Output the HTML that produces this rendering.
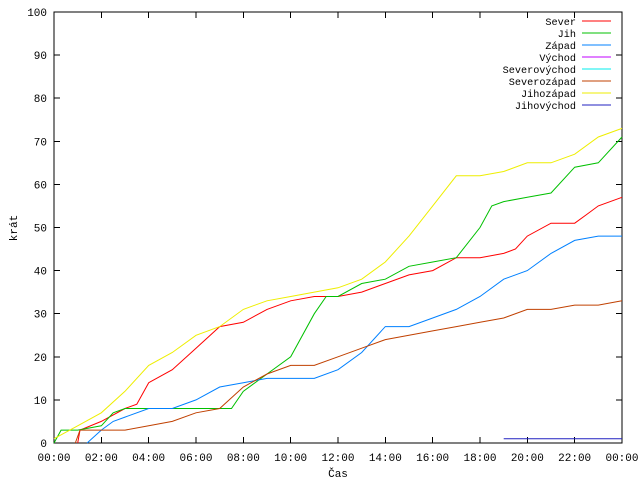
<!DOCTYPE html>
<html><head><meta charset="utf-8"><style>
body{margin:0;background:#fff}
svg text{font-family:"Liberation Mono","DejaVu Sans Mono",monospace;font-size:11px;fill:#000}
svg text.lg{font-size:10.2px}
</style></head><body>
<svg id="c" width="640" height="480" xmlns="http://www.w3.org/2000/svg"></svg>
<script>
const seriesNames=["Sever","Jih","Západ","Východ","Severovýchod","Severozápad","Jihozápad","Jihovýchod"];
const seriesColors=["#ff0000","#00c000","#0080ff","#c000ff","#00eeee","#c04000","#eeee00","#2020c0"];
const tSever=[1,1.1,2,3,3.5,4,5,6,7,8,9,10,11,12,13,14,15,16,17,18,19,19.5,20,21,22,22.5,23,24];
const vSever=[0,3,5,8,9,14,17,22,27,28,31,33,34,34,35,37,39,40,43,43,44,45,48,51,51,53,55,57];
const tJih=[0,0.3,1,2,2.5,3,4,7.5,8,9,10,11,11.5,12,13,14,15,16,17,18,18.5,19,20,21,22,23,24];
const vJih=[0,3,3,4,7,8,8,8,12,16,20,30,34,34,37,38,41,42,43,50,55,56,57,58,64,65,71];
const tZapad=[1.4,2,2.5,3,4,5,6,7,8,9,10,11,12,13,14,15,16,17,18,19,20,21,22,23,24];
const vZapad=[0,3,5,6,8,8,10,13,14,15,15,15,17,21,27,27,29,31,34,38,40,44,47,48,48];
const tSeverozapad=[0.9,1.1,2,3,4,5,6,7,8,9,10,11,12,13,14,15,16,17,18,19,20,21,22,23,24];
const vSeverozapad=[0,3,3,3,4,5,7,8,13,16,18,18,20,22,24,25,26,27,28,29,31,31,32,32,33];
const tJihozapad=[0,1,2,3,4,5,6,7,8,9,10,11,12,13,14,15,16,17,18,19,20,21,22,23,24];
const vJihozapad=[1,4,7,12,18,21,25,27,31,33,34,35,36,38,42,48,55,62,62,63,65,65,67,71,73];
const tJihovychod=[19,24];
const vJihovychod=[1,1];
const yTicks=[0,10,20,30,40,50,60,70,80,90,100];
const xTickLabels=["00:00","02:00","04:00","06:00","08:00","10:00","12:00","14:00","16:00","18:00","20:00","22:00","00:00"];

const NS="http://www.w3.org/2000/svg",svg=document.getElementById('c');
const L=54,R=622,T=12,B=443;
const xs=h=>L+h/24*(R-L), ys=v=>B-v/100*(B-T);
function mk(tag,a){const e=document.createElementNS(NS,tag);for(const k in a)e.setAttribute(k,a[k]);svg.appendChild(e);return e;}
let e=mk('rect',{x:L,y:T,width:R-L,height:B-T,fill:'none',stroke:'#000','stroke-width':1,'shape-rendering':'crispEdges'});


yTicks.forEach(v=>{
 const y=ys(v);
 let l=mk('path',{d:`M${L},${y}h6M${R},${y}h-6`,stroke:'#000','shape-rendering':'crispEdges'});
 
 
 let t=mk('text',{x:L-7,y:y+4,'text-anchor':'end'});t.textContent=v;
 
 
});
xTickLabels.forEach((s,i)=>{
 const x=xs(i*2);
 let l=mk('path',{d:`M${x},${B}v-6M${x},${T}v6`,stroke:'#000','shape-rendering':'crispEdges'});
 
 
 let t=mk('text',{x:x,y:B+18,'text-anchor':'middle'});t.textContent=s;
 
 
});
let xt=mk('text',{x:(L+R)/2,y:477,'text-anchor':'middle'});xt.textContent='Čas';


let yt=mk('text',{x:17,y:228,'text-anchor':'middle',transform:'rotate(-90 17 228)'});yt.textContent='krát';


const data=[[tSever,vSever,0],[tJih,vJih,1],[tZapad,vZapad,2],[tSeverozapad,vSeverozapad,5],[tJihozapad,vJihozapad,6],[tJihovychod,vJihovychod,7]];
data.forEach(([t,v,ci])=>{
 let d='';
 for(let i=0;i<t.length;i++){
  const x=xs(t[i]).toFixed(1),y=ys(v[i]).toFixed(1);
  if(i===0)d+=`M${x},${y}`;else d+=`L${x},${y}`;
 }
 let p=mk('path',{d:d,fill:'none',stroke:seriesColors[ci],'stroke-width':1});
 
 
});
seriesNames.forEach((n,i)=>{
 const y=21+i*12;
 let t=mk('text',{x:576,y:y+4,'text-anchor':'end','class':'lg'});t.textContent=n;
 
 
 let l=mk('line',{x1:582,x2:611,y1:y,y2:y,stroke:seriesColors[i]});
 
 
});
</script>
</body></html>
